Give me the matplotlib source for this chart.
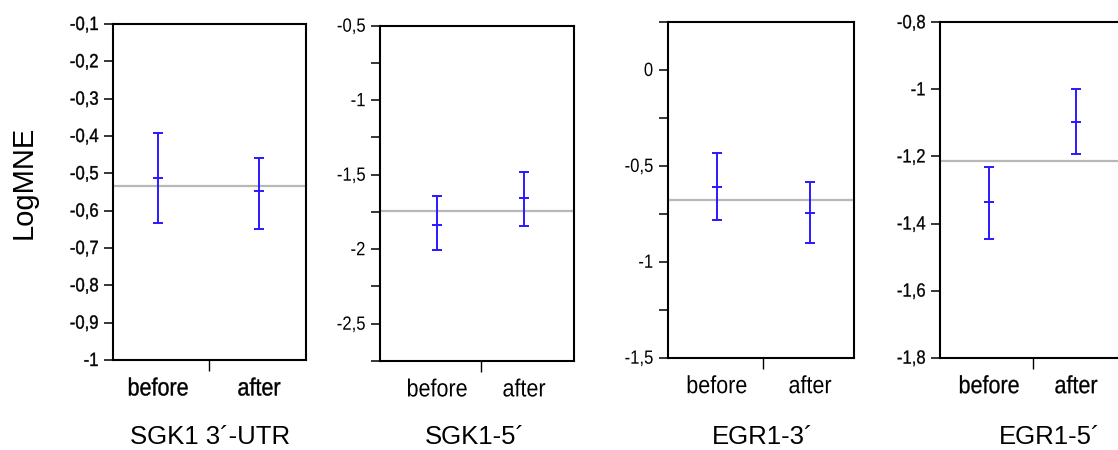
import matplotlib
matplotlib.use("Agg")
import matplotlib.pyplot as plt
from matplotlib.patheffects import AbstractPathEffect
from matplotlib.transforms import Affine2D

# group labels and panel titles
groups = ["before", "after"]
titles = ["SGK1 3\u00b4-UTR", "SGK1-5\u00b4", "EGR1-3\u00b4", "EGR1-5\u00b4"]

# means, upper and lower limits (before, after)
means = [[-0.513, -0.548], [-1.835, -1.655], [-0.610, -0.745], [-1.336, -1.097]]
upper = [[-0.393, -0.458], [-1.642, -1.484], [-0.435, -0.582], [-1.231, -0.998]]
lower = [[-0.632, -0.648], [-2.002, -1.842], [-0.784, -0.901], [-1.447, -1.192]]
grand = [-0.533, -1.742, -0.678, -1.214]

# y ranges and ticks per panel
ylims = [(-1.0, -0.1), (-2.75, -0.5), (-1.5, 0.25), (-1.8, -0.8)]
yticks = [
    [-1.0, -0.9, -0.8, -0.7, -0.6, -0.5, -0.4, -0.3, -0.2, -0.1],
    [-2.75, -2.5, -2.25, -2.0, -1.75, -1.5, -1.25, -1.0, -0.75, -0.5],
    [-1.5, -1.25, -1.0, -0.75, -0.5, -0.25, 0.0, 0.25],
    [-1.8, -1.6, -1.4, -1.2, -1.0, -0.8],
]
ylabels = [
    ["-1", "-0,9", "-0,8", "-0,7", "-0,6", "-0,5", "-0,4", "-0,3", "-0,2", "-0,1"],
    ["", "-2,5", "", "-2", "", "-1,5", "", "-1", "", "-0,5"],
    ["-1,5", "", "-1", "", "-0,5", "", "0", ""],
    ["-1,8", "-1,6", "-1,4", "-1,2", "-1", "-0,8"],
]

# layout in pixels: left, right, top, bottom, before x, after x, title x
W, H = 1118, 450
boxes = [
    (113, 306, 24, 360, 158, 259, 210),
    (380, 574, 25.7, 361, 437, 524, 475),
    (667.7, 854.3, 22, 357.7, 716.7, 810, 763),
    (940, 1140, 22.3, 357.7, 989, 1076, 1050),
]
heavy = [0.3, 0.0, 0.0, 0.2]   # panels 1 and 4 print a bit bolder


class Stretch(AbstractPathEffect):
    """draw glyphs taller than wide, like the squeezed scan"""

    def __init__(self, sy=1.15, lw=0.0):
        super().__init__()
        self.sy = sy
        self.lw = lw

    def draw_path(self, renderer, gc, tpath, affine, rgbFace=None):
        aff = Affine2D().scale(1, self.sy) + affine
        if self.lw and rgbFace is not None:
            gc0 = renderer.new_gc()
            gc0.copy_properties(gc)
            gc0.set_linewidth(self.lw)
            gc0.set_foreground(rgbFace)
            renderer.draw_path(gc0, tpath, aff, None)
            gc0.restore()
        renderer.draw_path(gc, tpath, aff, rgbFace)


blue = "#2a18ff"
plt.rcParams["font.family"] = ["Liberation Sans", "DejaVu Sans"]

fig = plt.figure(figsize=(W / 100, H / 100), dpi=100)

for i in range(4):
    L, R, T, B, bx, ax_, tx = boxes[i]
    ax = fig.add_axes([L / W, 1 - B / H, (R - L) / W, (B - T) / H])
    unit = ax_ - bx
    ax.set_xlim(-(bx - L) / unit, 1 + (R - ax_) / unit)
    ax.set_ylim(*ylims[i])

    xs = [0, 1]
    err_lo = [means[i][k] - lower[i][k] for k in range(2)]
    err_hi = [upper[i][k] - means[i][k] for k in range(2)]
    ax.axhline(grand[i], color="#b8b8b8", lw=1.6, zorder=1)
    ax.errorbar(xs, means[i], yerr=[err_lo, err_hi], fmt="_", color=blue,
                ecolor=blue, elinewidth=1.4, capsize=3.3, capthick=1.4,
                markersize=6.6, mew=1.4, zorder=3)

    ax.set_yticks(yticks[i], ylabels[i], fontsize=12)
    ax.tick_params(axis="y", length=6.5, width=1.1, pad=4, direction="out")

    ax.set_xticks([0.5], [""])
    ax.set_xticks(xs, groups, minor=True, fontsize=15.5)
    ax.tick_params(axis="x", which="major", length=8, width=1.0)
    ax.tick_params(axis="x", which="minor", length=0, pad=14)

    for lbl in ax.get_yticklabels():
        lbl.set_path_effects([Stretch(1.15, heavy[i])])
    for lbl in ax.get_xticklabels(minor=True):
        lbl.set_path_effects([Stretch(1.15, heavy[i])])

    for sp in ax.spines.values():
        sp.set_linewidth(1.5)

    fig.text(tx / W, 1 - 437 / H, titles[i], ha="center", va="center", fontsize=18.5)

fig.text(24 / W, 1 - 182 / H, "LogMNE", rotation=90, ha="center", va="center",
         fontsize=21)

fig.savefig("out.png", dpi=100)
